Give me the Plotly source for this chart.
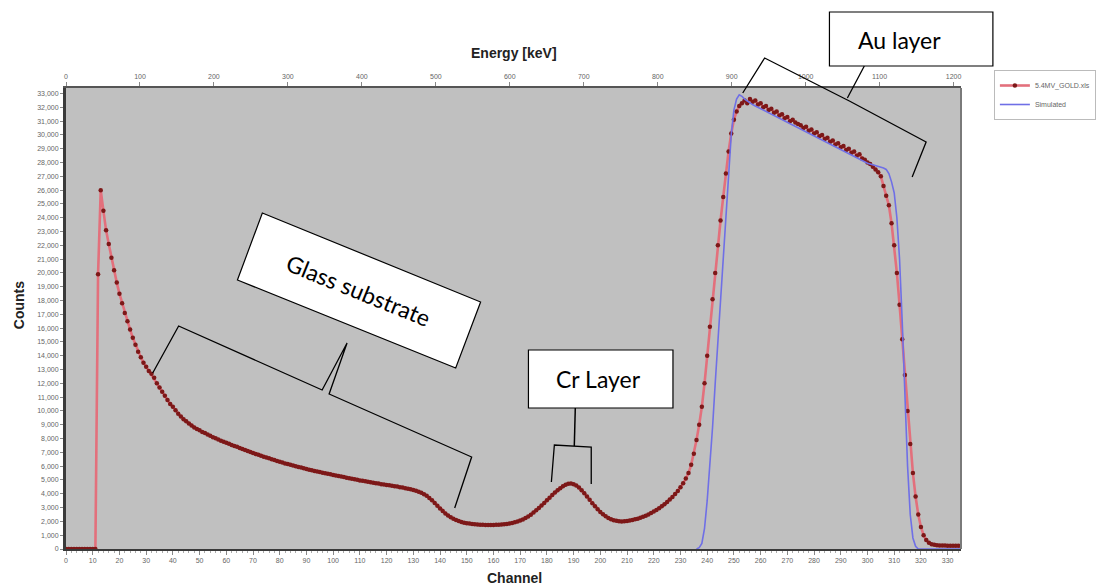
import plotly.graph_objects as go

# ---------------- data ----------------
channels_exp = list(range(0, 336))
counts_exp = [
    0, 0, 0, 0, 0, 0, 0, 0, 0, 0, 0, 0,
    19900, 26000, 24500, 23100, 22100, 21100, 20200, 19300,
    18500, 17800, 17100, 16500, 15900, 15300, 14800, 14300, 13900, 13500,
    13200, 12900, 12700, 12400, 12000, 11700, 11400, 11100, 10800, 10500,
    10300, 10050, 9800, 9600, 9400, 9250, 9100, 8950, 8800, 8700,
    8600, 8480, 8400, 8300, 8200, 8100, 8020, 7930, 7850, 7770,
    7700, 7620, 7540, 7470, 7400, 7320, 7250, 7170, 7100, 7020,
    6950, 6880, 6820, 6750, 6690, 6630, 6570, 6500, 6440, 6380,
    6320, 6260, 6200, 6150, 6100, 6050, 6000, 5950, 5900, 5850,
    5800, 5750, 5700, 5650, 5610, 5570, 5530, 5490, 5450, 5410,
    5370, 5330, 5290, 5250, 5210, 5170, 5130, 5090, 5050, 5010,
    4970, 4940, 4900, 4870, 4840, 4800, 4770, 4740, 4700, 4670,
    4640, 4610, 4580, 4550, 4520, 4480, 4450, 4410, 4370, 4330,
    4280, 4220, 4150, 4070, 3970, 3850, 3700, 3530, 3340, 3140,
    2940, 2750, 2580, 2430, 2300, 2190, 2100, 2020, 1960, 1910,
    1870, 1840, 1810, 1790, 1770, 1760, 1750, 1740, 1740, 1740,
    1740, 1750, 1760, 1770, 1790, 1810, 1840, 1880, 1930, 1990,
    2060, 2140, 2240, 2360, 2490, 2640, 2800, 2970, 3150, 3340,
    3530, 3720, 3910, 4090, 4260, 4410, 4550, 4660, 4730, 4750,
    4700, 4600, 4450, 4260, 4040, 3800, 3560, 3320, 3090, 2880,
    2680, 2510, 2370, 2250, 2160, 2090, 2040, 2010, 2000, 2010,
    2030, 2060, 2100, 2150, 2200, 2260, 2330, 2410, 2500, 2600,
    2710, 2830, 2960, 3100, 3250, 3410, 3580, 3770, 3980, 4210,
    4470, 4760, 5100, 5500, 6100, 6900, 7900, 9000, 10300, 12000,
    14000, 16100, 18100, 20000, 22000, 23800, 25500, 27200, 28800, 30100,
    31100, 31700, 32100, 32300, 32500, 32300, 32600, 32400, 32500, 32200,
    32300, 32000, 32100, 31800, 31900, 31600, 31700, 31400, 31500, 31200,
    31300, 31000, 31100, 30900, 30800, 30700, 30500, 30600, 30300, 30400,
    30100, 30200, 29900, 30000, 29700, 29800, 29500, 29600, 29300, 29400,
    29100, 29200, 28900, 29000, 28700, 28800, 28500, 28600, 28300, 28200,
    28000, 27900, 27700, 27500, 27300, 27000, 26300, 25600, 24900, 23600,
    22000, 20000, 17700, 15200, 12600, 10000, 7600, 5500, 3800, 2500,
    1600, 1000, 650, 450, 350, 300, 280, 260, 250, 250,
    240, 240, 230, 230, 230, 230,
]

channels_sim = list(range(236, 336))
counts_sim = [
    0, 100, 400, 1500, 3500, 6000, 8800, 12000, 15000, 18000,
    21500, 24800, 27800, 30000, 31800, 32600, 32900, 32800, 32600, 32450,
    32300, 32200, 32100, 32000, 31900, 31800, 31700, 31600, 31500, 31400,
    31300, 31200, 31100, 31000, 30900, 30800, 30700, 30600, 30500, 30400,
    30300, 30200, 30100, 30000, 29900, 29800, 29700, 29600, 29500, 29400,
    29300, 29200, 29100, 29000, 28900, 28800, 28700, 28600, 28500, 28400,
    28300, 28200, 28100, 28000, 27950, 27900, 27850, 27800, 27750, 27700,
    27600, 27500, 27200, 26600, 25800, 24000, 21000, 16500, 11000, 6000,
    2500, 800, 200, 0, 0, 0, 0, 0, 0, 0,
    0, 0, 0, 0, 0, 0, 0, 0, 0, 0,
]

series_names = ["5.4MV_GOLD.xls", "Simulated"]
channel_ticks = list(range(0, 331, 10))
energy_ticks = list(range(0, 1201, 100))
count_ticks = list(range(0, 33001, 1000))
KEV_PER_CHANNEL = 3.612

# ---------------- geometry helpers (layout only) ----------------
L, R, T, B = 66, 964, 88, 549
W, H = 1108, 586


def px(x):
    return (x - L) / (R - L)


def py(y):
    return (B - y) / (B - T)


def path(points, close=False):
    s = "M " + " L ".join(f"{px(x):.5f},{py(y):.5f}" for x, y in points)
    return s + (" Z" if close else "")


fig = go.Figure()

fig.add_trace(go.Scatter(
    x=channels_exp, y=counts_exp, name=series_names[0],
    mode="lines+markers",
    line=dict(color="#e3707c", width=2.6),
    marker=dict(color="#7d1818", size=4.5),
))
fig.add_trace(go.Scatter(
    x=channels_sim, y=counts_sim, name=series_names[1],
    mode="lines",
    line=dict(color="#6f6fe6", width=1.6),
))
# empty trace that only attaches the energy (top) axis
fig.add_trace(go.Scatter(x=[None], y=[None], xaxis="x2", yaxis="y",
                         showlegend=False, hoverinfo="skip"))

tickfont = dict(family="Liberation Sans, Arial", size=7, color="#666666")
titlefont = dict(family="Liberation Sans, Arial", size=14, color="#222222")

fig.update_layout(
    width=W, height=H,
    margin=dict(l=L, r=W - R, t=T, b=H - B),
    paper_bgcolor="white",
    plot_bgcolor="#c0c0c0",
    showlegend=True,
    legend=dict(
        x=px(997), y=py(70), xanchor="left", yanchor="top",
        bgcolor="white", bordercolor="#bbbbbb", borderwidth=1,
        font=dict(family="Liberation Sans, Arial", size=7, color="#666666"),
        itemwidth=30, tracegroupgap=0,
    ),
    xaxis=dict(
        range=[0, 335], tickmode="array", tickvals=channel_ticks,
        ticks="outside", ticklen=4, tickcolor="#888888", tickfont=tickfont,
        showgrid=False, zeroline=False,
        showline=True, linecolor="#3a3a3a", linewidth=2, mirror=False,
        minor=dict(ticks="outside", ticklen=2, dtick=2, tickcolor="#aaaaaa"),
    ),
    xaxis2=dict(
        range=[0, 335 * KEV_PER_CHANNEL], overlaying="x", side="top", anchor="y",
        tickmode="array", tickvals=energy_ticks,
        ticks="outside", ticklen=4, tickcolor="#888888", tickfont=tickfont,
        showgrid=False, zeroline=False,
        showline=True, linecolor="#555555", linewidth=2,
    ),
    yaxis=dict(
        range=[0, 33400], tickmode="array", tickvals=count_ticks,
        tickformat=",d", ticks="outside", ticklen=3, tickcolor="#888888",
        tickfont=tickfont, showgrid=False, zeroline=False,
        showline=True, linecolor="#3a3a3a", linewidth=3, mirror=False,
    ),
)

# right border of the plot area
shapes = [
    dict(type="line", xref="paper", yref="paper", x0=1, x1=1, y0=0, y1=1,
         line=dict(color="#7a7a7a", width=2)),
]

# Glass substrate box (rotated) and bracket
shapes.append(dict(type="path", xref="paper", yref="paper", layer="above",
                   path=path([(263, 213), (482, 302), (457, 368), (238, 280)], True),
                   fillcolor="white", line=dict(color="black", width=1.2)))
shapes.append(dict(type="path", xref="paper", yref="paper", layer="above",
                   path=path([(153, 373), (179, 326), (323, 390), (348, 343),
                              (330, 394), (473, 457), (456, 508)]),
                   line=dict(color="black", width=1.3)))

# Cr layer box and bracket
shapes.append(dict(type="rect", xref="paper", yref="paper", layer="above",
                   x0=px(530), x1=px(675), y0=py(350), y1=py(408),
                   fillcolor="white", line=dict(color="black", width=1.2)))
shapes.append(dict(type="path", xref="paper", yref="paper", layer="above",
                   path=path([(577, 408), (576, 446)]),
                   line=dict(color="black", width=1.5)))
shapes.append(dict(type="path", xref="paper", yref="paper", layer="above",
                   path=path([(553, 482), (556, 445), (593, 447), (593, 484)]),
                   line=dict(color="black", width=1.3)))

# Au layer box and bracket
shapes.append(dict(type="rect", xref="paper", yref="paper", layer="above",
                   x0=px(832), x1=px(996), y0=py(12), y1=py(66),
                   fillcolor="white", line=dict(color="black", width=1.2)))
shapes.append(dict(type="path", xref="paper", yref="paper", layer="above",
                   path=path([(745, 93), (767, 58), (846, 98), (852, 101),
                              (929, 142), (915, 177)]),
                   line=dict(color="black", width=1.3)))
shapes.append(dict(type="path", xref="paper", yref="paper", layer="above",
                   path=path([(850, 98), (867, 66)]),
                   line=dict(color="black", width=1.3)))

fig.update_layout(shapes=shapes)

labelfont = dict(family="Lato, Open Sans", size=23, color="black")
annotations = [
    dict(text="Glass substrate", x=px(359), y=py(290), textangle=22,
         font=labelfont),
    dict(text="Cr Layer", x=px(600), y=py(379), font=labelfont),
    dict(text="Au layer", x=px(902), y=py(40), font=labelfont),
    dict(text="<b>Energy [keV]</b>", x=px(516), y=py(53), font=titlefont),
    dict(text="<b>Channel</b>", x=px(516), y=py(578), font=titlefont),
    dict(text="<b>Counts</b>", x=px(19), y=py(305), textangle=-90, font=titlefont),
]
for a in annotations:
    a.update(xref="paper", yref="paper", showarrow=False,
             xanchor="center", yanchor="middle")
fig.update_layout(annotations=annotations)

fig.write_html("out.html")
